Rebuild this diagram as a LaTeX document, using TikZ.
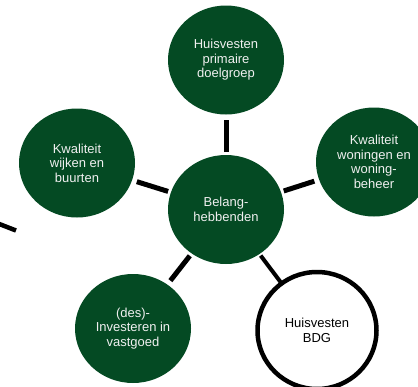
\documentclass[tikz,border=0pt]{standalone}
\usepackage{fontspec}
\setmainfont{Liberation Sans}
\usetikzlibrary{shapes.geometric}
\definecolor{bosgroen}{RGB}{4,74,35}
\definecolor{lichttekst}{RGB}{240,240,240}
\begin{document}
\begin{tikzpicture}[x=1pt,y=-1pt,
  bol/.style={ellipse,minimum width=116pt,minimum height=109pt,inner sep=0pt,outer sep=0pt,
    align=center,font=\fontsize{13}{14.5}\selectfont},
  groen/.style={bol,fill=bosgroen,text=lichttekst},
  wit/.style={bol,draw=black,line width=4.5pt,fill=white,text=black,minimum width=119pt,minimum height=117pt},
  lijn/.style={line width=5pt,black,shorten <=3pt,shorten >=5pt},
  lijndun/.style={line width=4pt,black,shorten <=2pt,shorten >=0pt}]
  \useasboundingbox[fill=white] (0,0) rectangle (418,386);

  % satellites around the central theme
  \node[groen] (top)  at (226,60)    {Huisvesten\\primaire\\doelgroep};
  \node[groen] (wijk) at (77,163)    {Kwaliteit\\wijken en\\buurten};
  \node[groen] (won)  at (374,162)   {Kwaliteit\\woningen en\\woning-\\beheer};
  \node[groen] (inv)  at (133,328.5) {(des)-\\Investeren in\\vastgoed};
  \node[wit]   (bdg)  at (317,330.5) {Huisvesten\\BDG};
  \node[groen] (mid)  at (226,209.5) {Belang-\\hebbenden};

  % spokes
  \draw[lijn] (mid) -- (top);
  \draw[lijn] (mid) -- (wijk);
  \draw[lijn] (mid) -- (won);
  \draw[lijn] (mid) -- (inv);
  \draw[lijndun] (mid) -- (bdg);

  % loose spoke at the left edge
  \coordinate (los1) at (-2,223.5);
  \coordinate (los2) at (16,230.5);
  \draw[line width=4.5pt,black] (los1) -- (los2);
\end{tikzpicture}
\end{document}
